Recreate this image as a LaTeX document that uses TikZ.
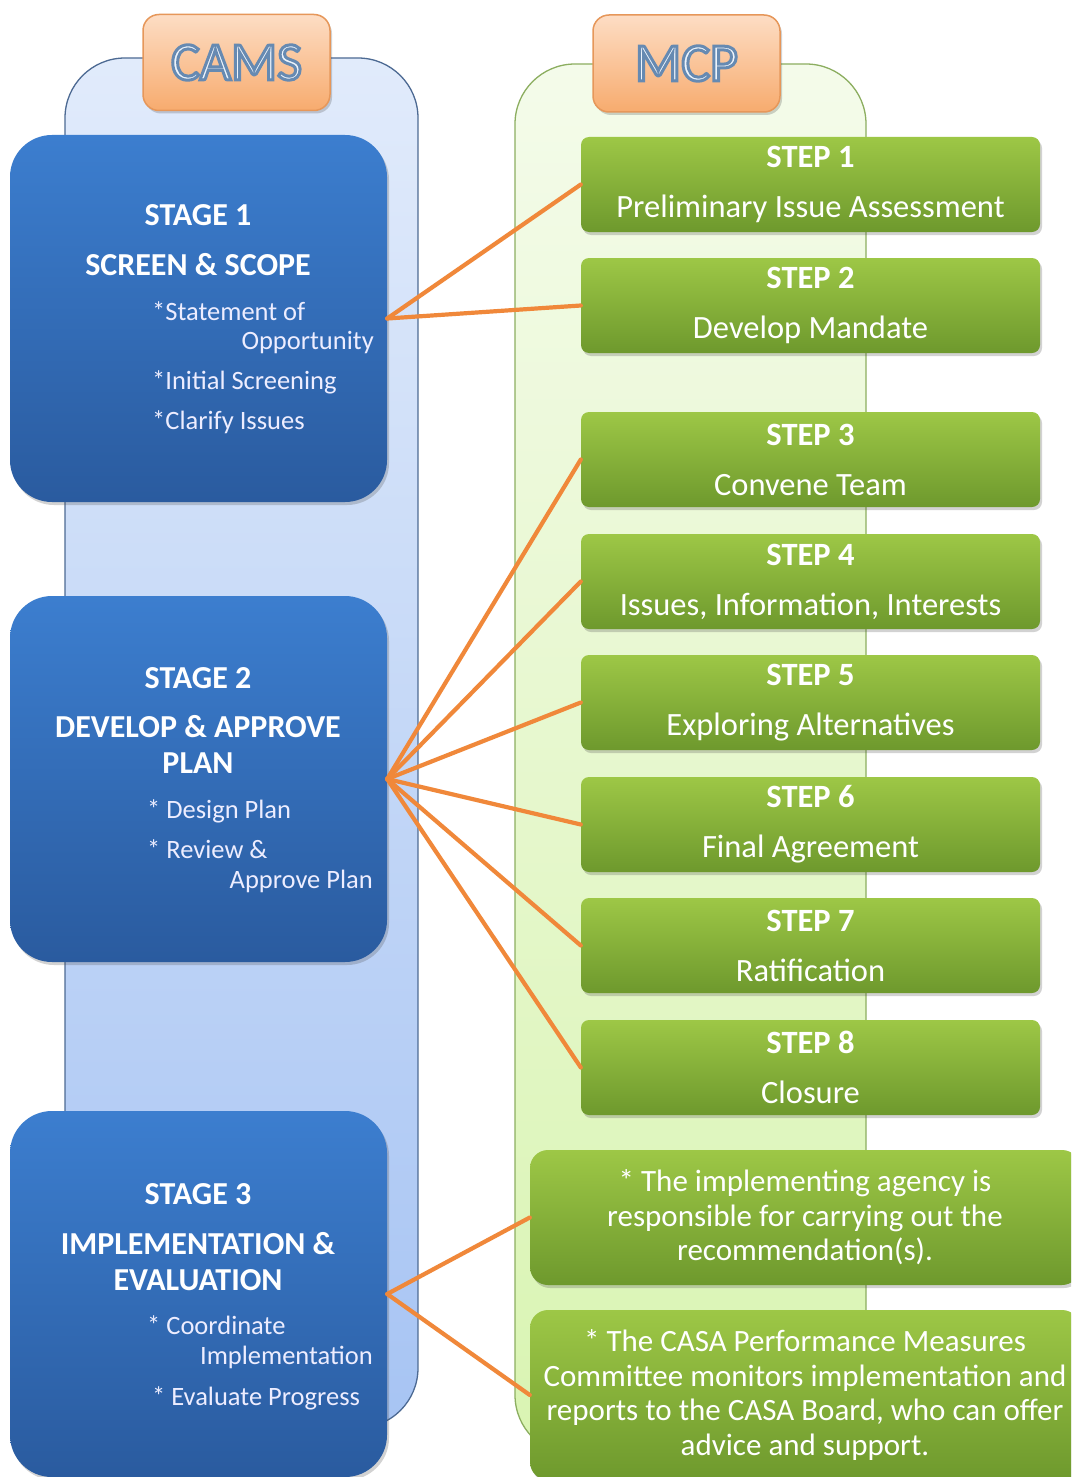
\documentclass[tikz,border=0pt]{standalone}
\usepackage{fontspec}
\setmainfont{Carlito}
\usetikzlibrary{shadows,calc}

\definecolor{stagetop}{HTML}{3C7ECF}
\definecolor{stagebot}{HTML}{2A5B9F}
\definecolor{steptop}{HTML}{9DC746}
\definecolor{stepbot}{HTML}{6E992D}
\definecolor{camtop}{HTML}{E1EBFB}
\definecolor{cambot}{HTML}{A7C4F3}
\definecolor{camline}{HTML}{4D6A93}
\definecolor{mcptop}{HTML}{F4FBEA}
\definecolor{mcpbot}{HTML}{D9F4B2}
\definecolor{mcpline}{HTML}{8CAE60}
\definecolor{tabtop}{HTML}{FDDDC4}
\definecolor{tabbot}{HTML}{F7AB6E}
\definecolor{tabline}{HTML}{E6975A}
\definecolor{linkc}{HTML}{F0883A}
\definecolor{wordfill}{HTML}{EDF4FC}

% outlined heading lettering: fill in the current colour, stroke in blue-grey
\newcommand{\outlined}[1]{\special{pdf:literal direct 2 Tr 3 w 0.40 0.54 0.70 RG}#1\special{pdf:literal direct 0 Tr 1 w}}

\tikzset{
  boxshadow/.style={drop shadow={shadow xshift=2pt, shadow yshift=-3pt, opacity=0.25, fill=black!70}},
  panelbox/.style={line width=1.3, rounded corners=60, inner sep=0},
  campanel/.style={panelbox, draw=camline, top color=camtop, bottom color=cambot},
  mcppanel/.style={panelbox, draw=mcpline, top color=mcptop, bottom color=mcpbot},
  tabbox/.style={draw=tabline, line width=1.5, rounded corners=16, top color=tabtop, bottom color=tabbot,
    minimum width=187, minimum height=96, inner sep=0, boxshadow},
  tabword/.style={font=\fontsize{54}{60}\selectfont, inner sep=0, text=wordfill},
  stagebox/.style={rounded corners=42, top color=stagetop, bottom color=stagebot,
    minimum width=377, inner sep=0, boxshadow},
  stagetitle/.style={font=\bfseries\fontsize{32}{36}\selectfont, text=white, inner sep=0, anchor=base},
  stageitem/.style={font=\fontsize{26.5}{30}\selectfont, text=white!93!blue, inner sep=0},
  stepbox/.style={rounded corners=8, top color=steptop, bottom color=stepbot,
    minimum width=459, minimum height=95, inner sep=0, text=white, align=center,
    font=\fontsize{32.5}{50}\selectfont, boxshadow},
  notebox/.style={rounded corners=18, top color=steptop, bottom color=stepbot,
    minimum width=550, inner sep=0, text=white, align=center,
    font=\fontsize{31}{34.5}\selectfont, boxshadow},
  linkline/.style={draw=linkc, line width=4.2, line cap=round},
}

\begin{document}
\begin{tikzpicture}[x=1pt, y=-1pt]
\clip (0,0) rectangle (1071,1477);
\fill[white] (0,0) rectangle (1071,1477);

% the two column panels
\node[campanel, minimum width=353, minimum height=1370] (campanel) at (241.5,743) {};
\node[mcppanel, minimum width=351, minimum height=1391] (mcppanel) at (690.5,759.5) {};

% column headings
\node[tabbox] (camstab) at (236.5,62.5) {};
\node[tabbox, minimum height=97] (mcptab) at (686.5,63.5) {};
\node[tabword] (camsword) at (camstab.center) {\outlined{CAMS}};
\node[tabword] (mcpword) at (mcptab.center) {\outlined{MCP}};

% CAMS stages
\node[stagebox, minimum height=367] (s1) at (198.5,318.5) {};
\node[stagebox, minimum height=366] (s2) at (198.5,779) {};
\node[stagebox, minimum height=366] (s3) at (198.5,1294) {};

% MCP steps
\node[stepbox] (st1) at (810.5,184.5) {\textbf{STEP 1}\\Preliminary Issue Assessment};
\node[stepbox] (st2) at (810.5,305.5) {\textbf{STEP 2}\\Develop Mandate};
\node[stepbox] (st3) at (810.5,459.5) {\textbf{STEP 3}\\Convene Team};
\node[stepbox] (st4) at (810.5,581.5) {\textbf{STEP 4}\\Issues, Information, Interests};
\node[stepbox] (st5) at (810.5,702.5) {\textbf{STEP 5}\\Exploring Alternatives};
\node[stepbox] (st6) at (810.5,824.5) {\textbf{STEP 6}\\Final Agreement};
\node[stepbox] (st7) at (810.5,945.5) {\textbf{STEP 7}\\Ratification};
\node[stepbox] (st8) at (810.5,1067.5) {\textbf{STEP 8}\\Closure};

% implementation notes
\node[notebox, minimum height=135] (n1) at (805,1217.5)
  {* The implementing agency is\\responsible for carrying out the\\recommendation(s).};
\node[notebox, minimum height=170] (n2) at (805,1395)
  {* The CASA Performance Measures\\Committee monitors implementation and\\reports to the CASA Board, who can offer\\advice and support.};

% connectors
\draw[linkline] (s1.east) -- (st1.west);
\draw[linkline] (s1.east) -- (st2.west);
\foreach \k in {3,...,8} \draw[linkline] (s2.east) -- (st\k.west);
\draw[linkline] (s3.east) -- (n1.west);
\draw[linkline] (s3.east) -- (n2.west);

% stage texts
\node[stagetitle] (s1a) at (198,225) {STAGE 1};
\node[stagetitle] (s1b) at (198,275) {SCREEN \& SCOPE};
\node[stageitem, anchor=base west] (s1c) at (152,320) {*Statement of};
\node[stageitem, anchor=base east] (s1d) at (374,349) {Opportunity};
\node[stageitem, anchor=base west] (s1e) at (152,389) {*Initial Screening};
\node[stageitem, anchor=base west] (s1f) at (152,429) {*Clarify Issues};

\node[stagetitle] (s2a) at (198,688) {STAGE 2};
\node[stagetitle] (s2b) at (198,737) {DEVELOP \& APPROVE};
\node[stagetitle] (s2c) at (198,773) {PLAN};
\node[stageitem, anchor=base west] (s2d) at (147,818) {* Design Plan};
\node[stageitem, anchor=base west] (s2e) at (147,858) {* Review \&};
\node[stageitem, anchor=base east] (s2f) at (373,888) {Approve Plan};

\node[stagetitle] (s3a) at (198,1204) {STAGE 3};
\node[stagetitle] (s3b) at (198,1254) {IMPLEMENTATION \&};
\node[stagetitle] (s3c) at (198,1290) {EVALUATION};
\node[stageitem, anchor=base west] (s3d) at (147,1334) {* Coordinate};
\node[stageitem, anchor=base east] (s3e) at (373,1364) {Implementation};
\node[stageitem, anchor=base west] (s3f) at (152,1405) {* Evaluate Progress};
\end{tikzpicture}
\end{document}
